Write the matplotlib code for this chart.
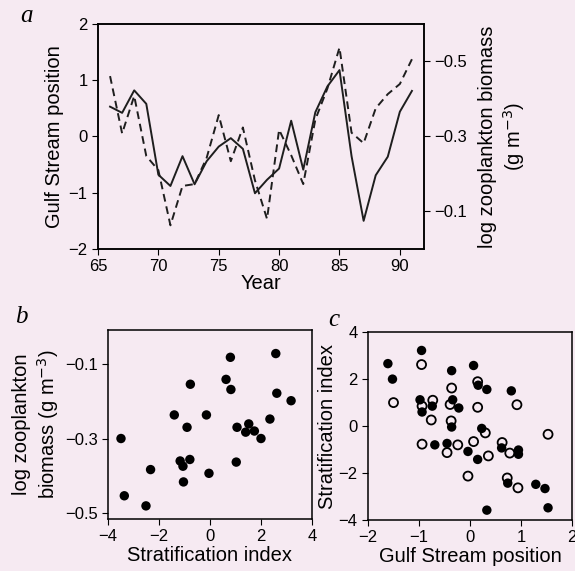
import numpy as np
import matplotlib
matplotlib.use('agg')
import matplotlib.pyplot as plt

# panel a: yearly series
years = list(range(66, 92))
gulf_stream = [0.53, 0.42, 0.82, 0.58, -0.68, -0.88, -0.35, -0.85, -0.44, -0.18,
               -0.03, -0.22, -1.01, -0.77, -0.57, 0.28, -0.59, 0.43, 0.89, 1.18,
               -0.35, -1.50, -0.69, -0.36, 0.44, 0.81]
zoo_biomass = [-0.461, -0.308, -0.408, -0.248, -0.210, -0.063, -0.168, -0.173, -0.243, -0.357,
               -0.234, -0.324, -0.183, -0.080, -0.318, -0.250, -0.173, -0.345, -0.428, -0.537,
               -0.310, -0.282, -0.375, -0.413, -0.440, -0.506]

# panel b: stratification index vs log zooplankton biomass
strat_b = [-3.49, -3.36, -2.51, -2.33, -1.40, -1.17, -1.06, -1.04, -0.90, -0.77, -0.79, -0.14, -0.04,
           0.63, 0.80, 0.82, 1.06, 1.03, 1.40, 1.52, 1.74, 2.00, 2.35, 2.58, 2.62, 3.18]
zoo_b = [-0.300, -0.453, -0.480, -0.383, -0.237, -0.360, -0.374, -0.416, -0.270, -0.155, -0.356, -0.237, -0.393,
         -0.142, -0.083, -0.169, -0.270, -0.363, -0.283, -0.261, -0.280, -0.300, -0.248, -0.073, -0.179, -0.199]

# panel c: Gulf Stream position vs stratification index
gs_filled = [-1.61, -1.52, -0.95, -0.98, -0.94, -0.74, -0.69, -0.45, -0.36, -0.34, -0.36, -0.22, -0.04, 0.07,
             0.16, 0.33, 0.81, 0.23, 0.15, 0.62, 0.95, 0.95, 0.74, 1.29, 1.47, 1.53, 0.33]
si_filled = [2.66, 2.00, 3.22, 1.12, 0.60, 0.85, -0.80, -0.74, 2.36, 1.12, -0.04, 0.77, -1.08, 2.58,
             1.74, 1.56, 1.50, -0.10, -1.42, -0.93, -1.02, -1.20, -2.43, -2.48, -2.66, -3.48, -3.58]
gs_open = [-0.95, -1.50, -0.94, -0.73, -0.76, -0.94, -0.36, -0.39, -0.37, -0.45, -0.24, -0.04, 0.15, 0.15,
           0.92, 0.30, 0.07, 0.36, 0.63, 0.78, 0.73, 0.94, 1.53]
si_open = [2.62, 1.00, 0.85, 1.10, 0.26, -0.77, 1.62, 0.92, 0.22, -1.13, -0.80, -2.13, 1.89, 0.80,
           0.91, -0.29, -0.66, -1.27, -0.70, -1.15, -2.21, -2.63, -0.35]

bg = '#f6eaf2'
plt.rcParams['font.family'] = ['Liberation Sans', 'DejaVu Sans']
plt.rcParams['font.size'] = 12
plt.rcParams['xtick.direction'] = 'out'
plt.rcParams['ytick.direction'] = 'out'
plt.rcParams['xtick.major.size'] = 4
plt.rcParams['ytick.major.size'] = 4
plt.rcParams['axes.linewidth'] = 1.1

fig = plt.figure(figsize=(5.75, 5.71), dpi=100, facecolor=bg)
lab = 14.5
ink = '#1e1e1e'

# --- a ---
ax1 = fig.add_axes([0.1704, 0.564, 0.567, 0.394])
ax1.set_facecolor(bg)
ax1.plot(years, gulf_stream, color=ink, lw=1.4)
ax1.set_xlim(65, 92)
ax1.set_ylim(-2, 2)
ax1.set_xticks([65, 70, 75, 80, 85, 90])
ax1.set_yticks([-2, -1, 0, 1, 2])
ax1.set_xlabel('Year', fontsize=lab, labelpad=0)
ax1.set_ylabel('Gulf Stream position', fontsize=lab, labelpad=3)

ax1r = ax1.twinx()
ax1r.plot(years, zoo_biomass, color=ink, lw=1.4, ls=(0, (4, 2.5)))
ax1r.set_ylim(0.0, -0.6)
ax1r.set_yticks([-0.5, -0.3, -0.1])
ax1r.set_yticklabels(['\u22120.5', '\u22120.3', '\u22120.1'])
ax1r.set_ylabel('log zooplankton biomass\n(g m$^{-3}$)', fontsize=lab, labelpad=8)

fig.text(0.035, 0.972, 'a', fontsize=18, style='italic', family='Liberation Serif', va='center')

# --- b ---
ax2 = fig.add_axes([0.1878, 0.0911, 0.3548, 0.331])
ax2.set_facecolor(bg)
ax2.scatter(strat_b, zoo_b, s=46, color='black', edgecolors='none')
ax2.set_xlim(-4, 4)
ax2.set_ylim(-0.515, -0.01)
ax2.set_xticks([-4, -2, 0, 2, 4])
ax2.set_yticks([-0.5, -0.3, -0.1])
ax2.set_yticklabels(['\u22120.5', '\u22120.3', '\u22120.1'])
ax2.set_xlabel('Stratification index', fontsize=lab, labelpad=1)
ax2.set_ylabel('log zooplankton\nbiomass (g m$^{-3}$)', fontsize=lab, labelpad=3)
fig.text(0.027, 0.445, 'b', fontsize=18, style='italic', family='Liberation Serif', va='center')

# --- c ---
ax3 = fig.add_axes([0.64, 0.0893, 0.3548, 0.329])
ax3.set_facecolor(bg)
ax3.scatter(gs_filled, si_filled, s=46, color='black', edgecolors='none', zorder=3)
ax3.scatter(gs_open, si_open, s=42, facecolors='none', edgecolors='black', linewidths=1.3, zorder=3)
ax3.set_xlim(-2, 2)
ax3.set_ylim(-4, 4)
ax3.set_xticks([-2, -1, 0, 1, 2])
ax3.set_yticks([-4, -2, 0, 2, 4])
ax3.set_xlabel('Gulf Stream position', fontsize=lab, labelpad=1)
ax3.set_ylabel('Stratification index', fontsize=lab, labelpad=1)
fig.text(0.571, 0.44, 'c', fontsize=18, style='italic', family='Liberation Serif', va='center')

fig.savefig('out.png', dpi=100, facecolor=bg)
